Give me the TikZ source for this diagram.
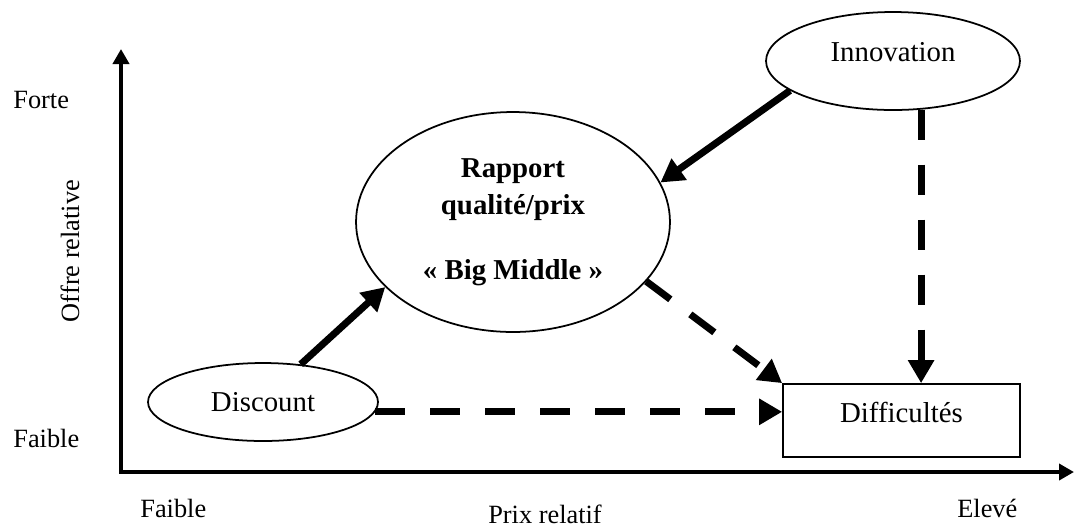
\documentclass[tikz,border=0pt]{standalone}
\usepackage{fontspec}
\setmainfont{Liberation Serif}
\usetikzlibrary{shapes.geometric,arrows.meta}

\begin{document}
\begin{tikzpicture}
    [x=0.02cm, y=-0.02cm, >={Triangle[length=0.46cm, width=0.5cm]},
     blob/.style={ellipse, draw, line width=1pt, inner sep=0pt, font=\fontsize{16.4}{21}\selectfont},
     box/.style={rectangle, draw, line width=1pt, inner sep=0pt, font=\fontsize{16.4}{21}\selectfont},
     lbl/.style={inner sep=0pt, font=\fontsize{15}{18}\selectfont},
     link/.style={->, line width=0.14cm},
     dlink/.style={link, dash pattern=on 0.6cm off 0.5cm},
     axis/.style={line width=0.085cm, {Triangle[length=0.3cm, width=0.32cm]}-{Triangle[length=0.3cm, width=0.32cm]}}]
  \useasboundingbox (0,0) rectangle (1075,529);

  % axes
  \coordinate (O) at (121,472);
  \coordinate (ytop) at (121,49);
  \coordinate (xend) at (1074,472);
  \draw[axis] (ytop) -- (O) -- (xend);

  \node[lbl, anchor=base west] (forte) at (13,108) {Forte};
  \node[lbl, anchor=base west] (faibley) at (13,447) {Faible};
  \node[lbl, rotate=90] (offre) at (70,251) {Offre relative};
  \node[lbl, anchor=base west] (faiblex) at (140,517) {Faible};
  \node[lbl, anchor=base] (prix) at (545,523) {Prix relatif};
  \node[lbl, anchor=base west] (eleve) at (957,517) {Elevé};

  % positions
  \node[blob, minimum width=6.28cm, minimum height=4.4cm, align=center,
        font=\fontsize{16.4}{21}\selectfont\bfseries] (big) at (513,222)
        {Rapport\\qualité/prix\\[16pt]«~Big Middle~»};
  \node[blob, minimum width=4.6cm, minimum height=1.56cm] (disc) at (263,402) {Discount};
  \node[blob, minimum width=5.08cm, minimum height=1.96cm, text depth=0.38cm] (innov) at (893,61) {Innovation};
  \node[box, minimum width=4.74cm, minimum height=1.46cm, text depth=0.33cm] (diff) at (901.5,420.5) {Difficultés};

  \draw[link] (disc.45) -- (big.207);
  \draw[link] (innov.196) -- (big.15);
  \draw[dlink] (big.336) -- (diff.north west);
  \draw[dlink] (disc.355) -- (disc.355 -| diff.west);
  \draw[dlink] (innov.300) -- (innov.300 |- diff.north);
\end{tikzpicture}
\end{document}
